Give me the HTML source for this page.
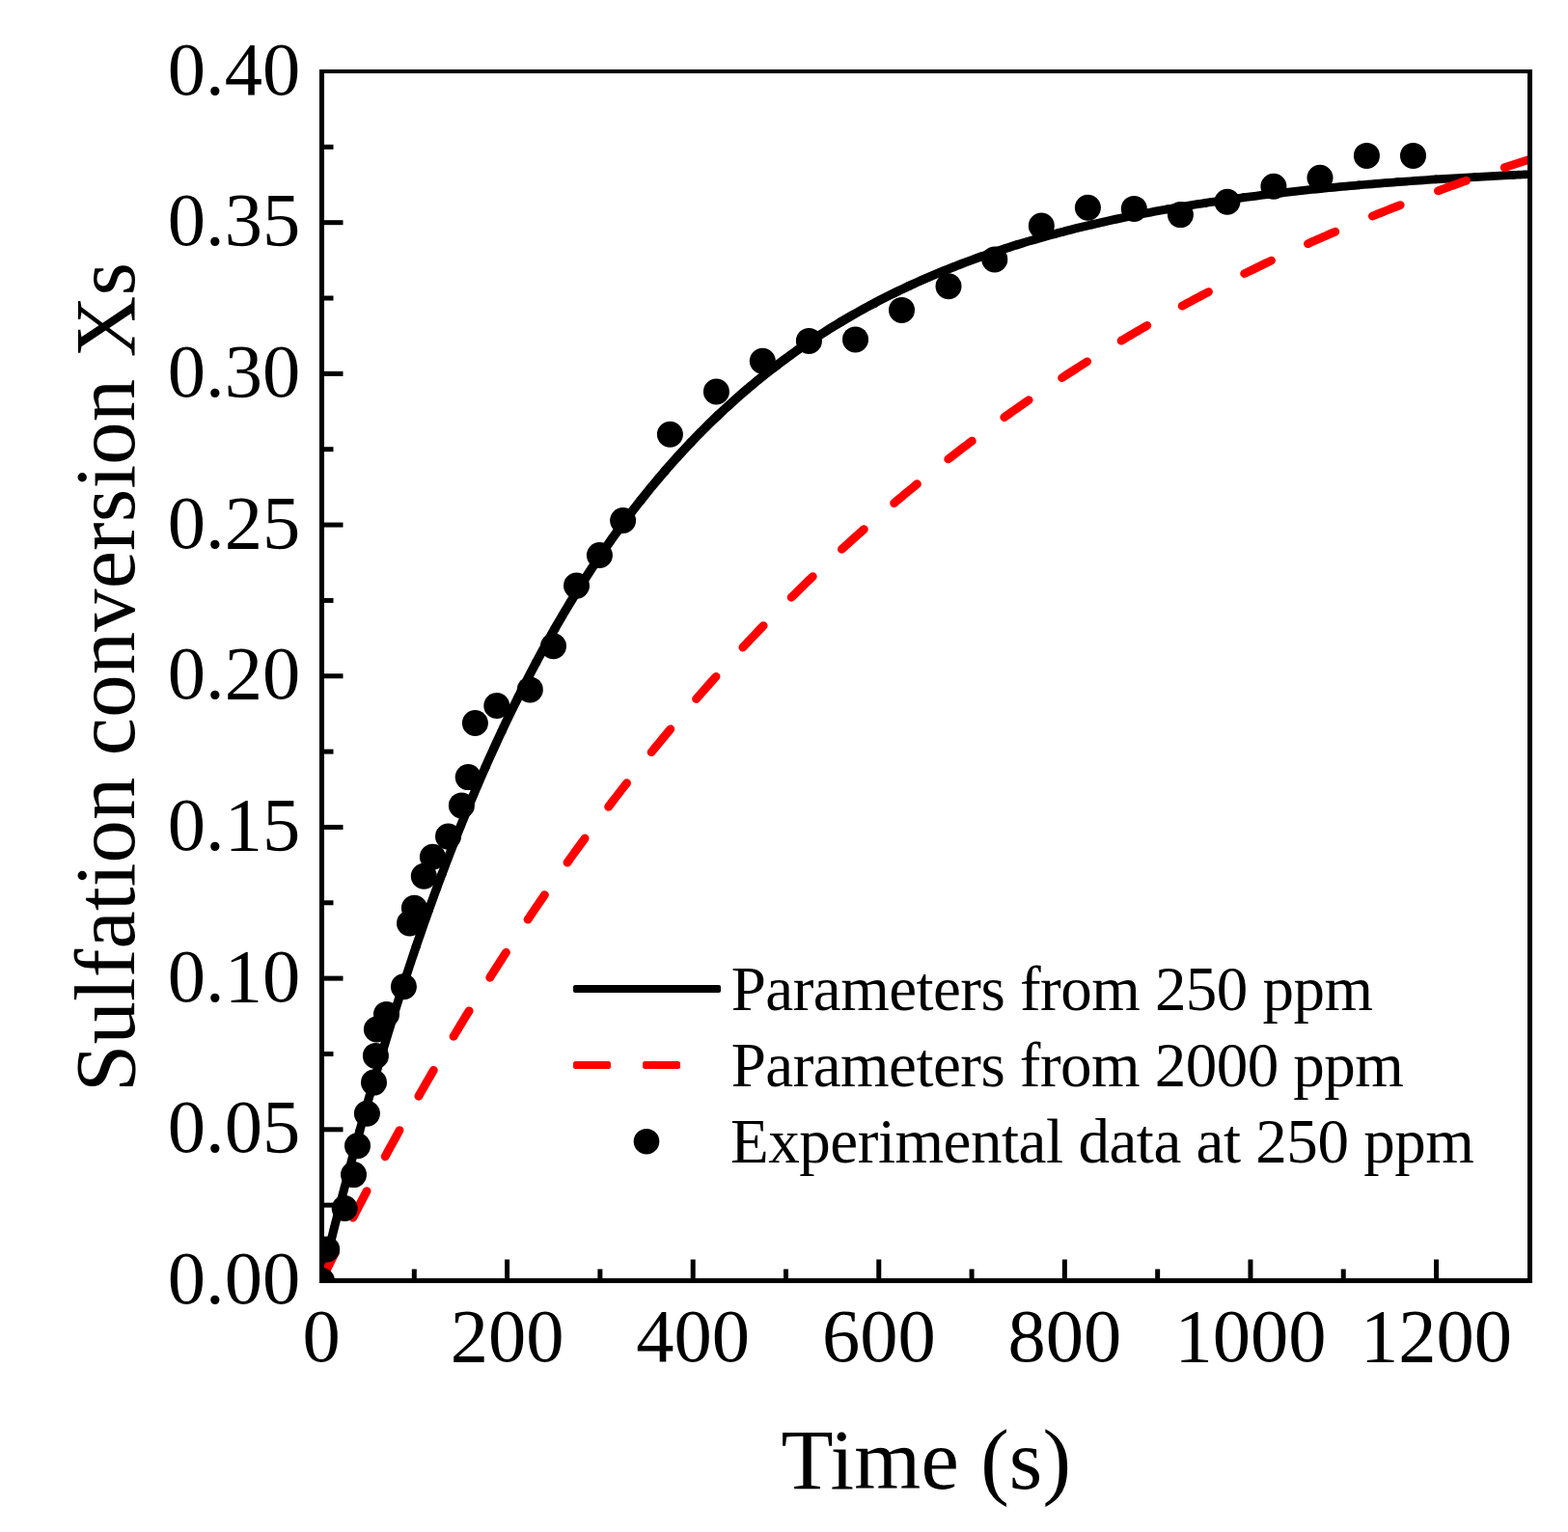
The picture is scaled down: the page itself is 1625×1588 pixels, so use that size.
<!DOCTYPE html>
<html><head><meta charset="utf-8"><title>Sulfation conversion</title>
<style>html,body{margin:0;padding:0;background:#fff;}svg{display:block;}text{font-family:"Liberation Serif","Times New Roman",serif;fill:#000;}</style>
</head><body>
<svg width="1625" height="1588" viewBox="0 0 1625 1588">
<rect width="1625" height="1588" fill="#fff"/>
<defs><clipPath id="pa"><rect x="333.5" y="74" width="1252" height="1253.5"/></clipPath></defs>
<g clip-path="url(#pa)">
<g fill="none" stroke="#000" stroke-linecap="round" stroke-linejoin="round"><path d="M333.00,1327.50 L334.03,1323.18 L335.07,1318.86 L336.11,1314.53 L337.16,1310.21 L338.20,1305.90 L339.26,1301.58 L340.31,1297.26 L341.37,1292.94 L342.44,1288.63" stroke-width="9.01"/><path d="M342.44,1288.63 L343.50,1284.31 L344.58,1280.00 L345.65,1275.69 L346.73,1271.38 L347.81,1267.07 L348.90,1262.76 L349.99,1258.45 L351.09,1254.14 L352.19,1249.84" stroke-width="9.03"/><path d="M352.19,1249.84 L353.29,1245.53 L354.40,1241.23 L355.51,1236.92 L356.62,1232.62 L357.75,1228.32 L358.87,1224.02 L360.00,1219.72 L361.13,1215.42 L362.27,1211.13" stroke-width="9.04"/><path d="M362.27,1211.13 L363.41,1206.83 L364.56,1202.54 L365.71,1198.25 L366.86,1193.95 L368.02,1189.66 L369.19,1185.37 L370.36,1181.09 L371.53,1176.80 L372.71,1172.51" stroke-width="9.05"/><path d="M372.71,1172.51 L373.89,1168.23 L375.08,1163.95 L376.27,1159.67 L377.47,1155.38 L378.67,1151.11 L379.88,1146.83 L381.09,1142.55 L382.30,1138.28 L383.53,1134.00" stroke-width="9.07"/><path d="M383.53,1134.00 L384.75,1129.73 L385.98,1125.46 L387.22,1121.19 L388.46,1116.93 L389.71,1112.66 L390.96,1108.40 L392.22,1104.13 L393.48,1099.87 L394.75,1095.61" stroke-width="9.08"/><path d="M394.75,1095.61 L396.02,1091.35 L397.30,1087.10 L398.58,1082.84 L399.87,1078.59 L401.17,1074.34 L402.47,1070.09 L403.78,1065.84 L405.09,1061.59 L406.41,1057.35" stroke-width="9.10"/><path d="M406.41,1057.35 L407.73,1053.11 L409.06,1048.86 L410.39,1044.63 L411.73,1040.39 L413.08,1036.15 L414.43,1031.92 L415.79,1027.69 L417.16,1023.46 L418.53,1019.23" stroke-width="9.12"/><path d="M418.53,1019.23 L419.91,1015.00 L421.29,1010.78 L422.68,1006.56 L424.08,1002.34 L425.48,998.12 L426.89,993.91 L428.30,989.69 L429.72,985.48 L431.15,981.27" stroke-width="9.14"/><path d="M431.15,981.27 L432.59,977.07 L434.03,972.86 L435.48,968.66 L436.93,964.46 L438.40,960.27 L439.86,956.07 L441.34,951.88 L442.82,947.69 L444.31,943.50" stroke-width="9.16"/><path d="M444.31,943.50 L445.81,939.32 L447.32,935.14 L448.83,930.96 L450.35,926.78 L451.87,922.60 L453.41,918.43 L454.95,914.27 L456.50,910.10 L458.06,905.94" stroke-width="9.18"/><path d="M458.06,905.94 L459.62,901.78 L461.19,897.62 L462.77,893.47 L464.36,889.31 L465.96,885.17 L467.56,881.02 L469.17,876.88 L470.79,872.74 L472.42,868.61" stroke-width="9.20"/><path d="M472.42,868.61 L474.06,864.47 L475.70,860.35 L477.36,856.22 L479.02,852.10 L480.69,847.98 L482.37,843.87 L484.06,839.75 L485.76,835.65 L487.46,831.54" stroke-width="9.23"/><path d="M487.46,831.54 L489.18,827.44 L490.90,823.35 L492.64,819.25 L494.38,815.17 L496.13,811.08 L497.89,807.00 L499.67,802.92 L501.45,798.85 L503.24,794.78" stroke-width="9.25"/><path d="M503.24,794.78 L505.04,790.72 L506.85,786.66 L508.67,782.61 L510.50,778.56 L512.34,774.51 L514.19,770.47 L516.05,766.43 L517.92,762.40 L519.80,758.38" stroke-width="9.28"/><path d="M519.80,758.38 L521.69,754.35 L523.59,750.34 L525.51,746.33 L527.43,742.32 L529.36,738.32 L531.31,734.32 L533.27,730.33 L535.24,726.35 L537.22,722.37" stroke-width="9.31"/><path d="M537.22,722.37 L539.21,718.39 L541.21,714.43 L543.22,710.46 L545.25,706.51 L547.29,702.56 L549.33,698.61 L551.40,694.68 L553.47,690.75 L555.56,686.82" stroke-width="9.33"/><path d="M555.56,686.82 L557.65,682.90 L559.76,678.99 L561.89,675.09 L564.02,671.19 L566.17,667.30 L568.33,663.41 L570.51,659.54 L572.69,655.67 L574.89,651.81" stroke-width="9.36"/><path d="M574.89,651.81 L577.11,647.95 L579.33,644.11 L581.57,640.27 L583.83,636.44 L586.10,632.62 L588.38,628.80 L590.67,625.00 L592.98,621.20 L595.31,617.41" stroke-width="9.39"/><path d="M595.31,617.41 L597.64,613.63 L600.00,609.86 L602.36,606.10 L604.74,602.34 L607.14,598.60 L609.55,594.87 L611.97,591.14 L614.42,587.43 L616.87,583.72" stroke-width="9.42"/><path d="M616.87,583.72 L619.34,580.03 L621.83,576.35 L624.33,572.67 L626.85,569.01 L629.38,565.36 L631.93,561.71 L634.49,558.08 L637.07,554.46 L639.67,550.86" stroke-width="9.44"/><path d="M639.67,550.86 L642.28,547.26 L644.91,543.68 L647.55,540.11 L650.21,536.55 L652.89,533.00 L655.58,529.46 L658.29,525.94 L661.02,522.43 L663.76,518.93" stroke-width="9.47"/><path d="M663.76,518.93 L666.52,515.45 L669.30,511.98 L672.10,508.53 L674.91,505.08 L677.74,501.66 L680.58,498.24 L683.45,494.84 L686.33,491.46 L689.23,488.09" stroke-width="9.48"/><path d="M689.23,488.09 L692.14,484.74 L695.08,481.40 L698.03,478.07 L701.00,474.77 L703.98,471.47 L706.99,468.20 L710.01,464.94 L713.05,461.70 L716.10,458.47" stroke-width="9.50"/><path d="M716.10,458.47 L719.18,455.26 L722.27,452.07 L725.38,448.90 L728.51,445.74 L731.66,442.60 L734.82,439.48 L738.00,436.38 L741.20,433.29 L744.42,430.23" stroke-width="9.50"/><path d="M744.42,430.23 L747.66,427.18 L750.91,424.15 L754.18,421.14 L757.47,418.15 L760.78,415.18 L764.10,412.23 L767.44,409.30 L770.80,406.39 L774.18,403.50" stroke-width="9.49"/><path d="M774.18,403.50 L777.57,400.63 L780.98,397.78 L784.41,394.95 L787.86,392.15 L791.32,389.36 L794.80,386.60 L798.29,383.85 L801.81,381.13 L805.34,378.43" stroke-width="9.48"/><path d="M805.34,378.43 L808.88,375.75 L812.45,373.09 L816.03,370.46 L819.62,367.85 L823.23,365.26 L826.86,362.69 L830.51,360.14 L834.16,357.62 L837.84,355.12" stroke-width="9.45"/><path d="M837.84,355.12 L841.53,352.64 L845.23,350.19 L848.95,347.76 L852.69,345.35 L856.44,342.96 L860.20,340.60 L863.98,338.26 L867.78,335.94 L871.58,333.65" stroke-width="9.42"/><path d="M871.58,333.65 L875.40,331.38 L879.24,329.13 L883.09,326.91 L886.95,324.71 L890.82,322.53 L894.71,320.38 L898.61,318.25 L902.52,316.14 L906.45,314.05" stroke-width="9.37"/><path d="M906.45,314.05 L910.38,311.99 L914.33,309.95 L918.29,307.94 L922.27,305.94 L926.25,303.97 L930.24,302.02 L934.25,300.10 L938.27,298.20 L942.29,296.32" stroke-width="9.32"/><path d="M942.29,296.32 L946.33,294.46 L950.38,292.63 L954.44,290.81 L958.51,289.02 L962.58,287.25 L966.67,285.51 L970.77,283.78 L974.87,282.08 L978.99,280.40" stroke-width="9.26"/><path d="M978.99,280.40 L983.11,278.73 L987.24,277.10 L991.38,275.48 L995.53,273.88 L999.68,272.30 L1003.84,270.75 L1008.01,269.21 L1012.19,267.70 L1016.38,266.20" stroke-width="9.20"/><path d="M1016.38,266.20 L1020.57,264.73 L1024.77,263.27 L1028.98,261.83 L1033.19,260.42 L1037.41,259.02 L1041.63,257.64 L1045.87,256.28 L1050.10,254.94 L1054.35,253.62" stroke-width="9.14"/><path d="M1054.35,253.62 L1058.60,252.32 L1062.85,251.03 L1067.11,249.77 L1071.38,248.52 L1075.65,247.29 L1079.92,246.07 L1084.20,244.88 L1088.49,243.70 L1092.78,242.53" stroke-width="9.08"/><path d="M1092.78,242.53 L1097.07,241.39 L1101.37,240.26 L1105.67,239.14 L1109.98,238.05 L1114.29,236.97 L1118.60,235.90 L1122.92,234.85 L1127.24,233.82 L1131.57,232.80" stroke-width="9.03"/><path d="M1131.57,232.80 L1135.90,231.79 L1140.23,230.80 L1144.57,229.83 L1148.91,228.87 L1153.25,227.92 L1157.60,226.99 L1161.95,226.07 L1166.30,225.17 L1170.65,224.27" stroke-width="8.97"/><path d="M1170.65,224.27 L1175.01,223.40 L1179.37,222.53 L1183.73,221.68 L1188.09,220.84 L1192.46,220.02 L1196.83,219.20 L1201.20,218.40 L1205.58,217.61 L1209.95,216.84" stroke-width="8.93"/><path d="M1209.95,216.84 L1214.33,216.07 L1218.71,215.32 L1223.09,214.58 L1227.48,213.85 L1231.86,213.13 L1236.25,212.42 L1240.64,211.72 L1245.03,211.03 L1249.42,210.36" stroke-width="8.89"/><path d="M1249.42,210.36 L1253.82,209.69 L1258.21,209.04 L1262.61,208.39 L1267.01,207.76 L1271.41,207.13 L1275.81,206.51 L1280.21,205.91 L1284.62,205.31 L1289.02,204.72" stroke-width="8.85"/><path d="M1289.02,204.72 L1293.43,204.14 L1297.84,203.57 L1302.25,203.01 L1306.66,202.46 L1311.07,201.92 L1315.48,201.38 L1319.89,200.86 L1324.31,200.34 L1328.72,199.83" stroke-width="8.82"/><path d="M1328.72,199.83 L1333.14,199.33 L1337.56,198.83 L1341.97,198.34 L1346.39,197.87 L1350.81,197.39 L1355.23,196.93 L1359.65,196.47 L1364.07,196.02 L1368.50,195.58" stroke-width="8.79"/><path d="M1368.50,195.58 L1372.92,195.14 L1377.34,194.72 L1381.77,194.29 L1386.19,193.88 L1390.62,193.47 L1395.04,193.07 L1399.47,192.67 L1403.90,192.28 L1408.33,191.90" stroke-width="8.77"/><path d="M1408.33,191.90 L1412.75,191.52 L1417.18,191.15 L1421.61,190.78 L1426.04,190.42 L1430.47,190.07 L1434.90,189.72 L1439.33,189.37 L1443.77,189.03 L1448.20,188.70" stroke-width="8.74"/><path d="M1448.20,188.70 L1452.63,188.37 L1457.06,188.05 L1461.50,187.74 L1465.93,187.42 L1470.36,187.12 L1474.80,186.81 L1479.23,186.52 L1483.67,186.22 L1488.10,185.94" stroke-width="8.72"/><path d="M1488.10,185.94 L1492.54,185.65 L1496.97,185.37 L1501.41,185.10 L1505.84,184.83 L1510.28,184.56 L1514.72,184.30 L1519.16,184.04 L1523.59,183.79 L1528.03,183.54" stroke-width="8.71"/><path d="M1528.03,183.54 L1532.47,183.29 L1536.91,183.05 L1541.34,182.81 L1545.78,182.58 L1550.22,182.35 L1554.66,182.12 L1559.10,181.90 L1563.54,181.68 L1567.98,181.46" stroke-width="8.69"/><path d="M1567.98,181.46 L1569.85,181.37 L1571.72,181.28 L1573.60,181.19 L1575.47,181.11 L1577.34,181.02 L1579.21,180.93 L1581.09,180.84 L1582.96,180.76 L1584.84,180.67" stroke-width="8.68"/></g>
<path d="M333.71,1326.05 L334.95,1323.52 L336.19,1321.00 L337.44,1318.47 L338.69,1315.94 L339.94,1313.41 L341.19,1310.89 L342.44,1308.36 L343.70,1305.84 L344.95,1303.32 L346.21,1300.80 L347.47,1298.28 M365.79,1262.17 L367.08,1259.66 L368.37,1257.16 L369.67,1254.66 L370.96,1252.15 L372.26,1249.65 L373.56,1247.15 L374.86,1244.65 L376.16,1242.15 L377.47,1239.65 L378.78,1237.16 L380.09,1234.66 M399.15,1198.87 L400.50,1196.39 L401.84,1193.92 L403.18,1191.44 L404.53,1188.96 L405.88,1186.49 L407.23,1184.02 L408.58,1181.55 L409.94,1179.07 L411.30,1176.60 L412.66,1174.14 L414.02,1171.67 M433.88,1136.24 L435.27,1133.79 L436.67,1131.34 L438.07,1128.90 L439.47,1126.45 L440.87,1124.01 L442.28,1121.57 L443.68,1119.12 L445.09,1116.68 L446.51,1114.25 L447.92,1111.81 L449.34,1109.37 M470.03,1074.35 L471.49,1071.94 L472.94,1069.52 L474.40,1067.11 L475.85,1064.70 L477.31,1062.29 L478.78,1059.88 L480.24,1057.47 L481.71,1055.07 L483.18,1052.66 L484.65,1050.26 L486.13,1047.86 M507.71,1013.30 L509.22,1010.93 L510.73,1008.55 L512.25,1006.17 L513.77,1003.80 L515.29,1001.43 L516.81,999.06 L518.34,996.69 L519.87,994.32 L521.40,991.95 L522.93,989.59 L524.47,987.22 M546.98,953.19 L548.55,950.86 L550.13,948.52 L551.71,946.19 L553.29,943.85 L554.87,941.52 L556.46,939.20 L558.05,936.87 L559.64,934.54 L561.24,932.22 L562.83,929.90 L564.43,927.58 M587.92,894.14 L589.56,891.84 L591.20,889.55 L592.85,887.27 L594.50,884.98 L596.15,882.70 L597.80,880.41 L599.45,878.13 L601.11,875.85 L602.77,873.58 L604.44,871.30 L606.11,869.03 M630.61,836.25 L632.32,834.01 L634.03,831.77 L635.75,829.54 L637.46,827.30 L639.18,825.07 L640.90,822.84 L642.63,820.61 L644.36,818.38 L646.09,816.16 L647.82,813.94 L649.56,811.72 M675.12,779.68 L676.90,777.49 L678.69,775.31 L680.47,773.13 L682.26,770.95 L684.05,768.77 L685.84,766.60 L687.64,764.43 L689.44,762.26 L691.24,760.09 L693.05,757.93 L694.85,755.77 M721.52,724.55 L723.37,722.43 L725.22,720.31 L727.08,718.19 L728.94,716.07 L730.81,713.96 L732.67,711.85 L734.54,709.74 L736.42,707.63 L738.29,705.53 L740.17,703.43 L742.05,701.33 M769.84,671.02 L771.76,668.97 L773.69,666.91 L775.63,664.86 L777.56,662.81 L779.50,660.77 L781.44,658.73 L783.39,656.69 L785.33,654.65 L787.28,652.62 L789.24,650.58 L791.19,648.56 M820.12,619.24 L822.12,617.26 L824.12,615.28 L826.13,613.30 L828.14,611.33 L830.16,609.36 L832.17,607.39 L834.19,605.43 L836.22,603.46 L838.24,601.50 L840.27,599.55 L842.30,597.60 M872.37,569.37 L874.45,567.47 L876.53,565.56 L878.61,563.67 L880.70,561.77 L882.79,559.88 L884.88,557.99 L886.97,556.11 L889.07,554.23 L891.17,552.35 L893.28,550.47 L895.38,548.60 M926.59,521.54 L928.74,519.72 L930.89,517.91 L933.05,516.09 L935.21,514.28 L937.38,512.48 L939.54,510.67 L941.71,508.87 L943.88,507.08 L946.06,505.29 L948.23,503.50 L950.41,501.71 M982.74,475.90 L984.96,474.17 L987.19,472.44 L989.42,470.72 L991.65,469.00 L993.89,467.28 L996.12,465.57 L998.36,463.86 L1000.61,462.15 L1002.85,460.45 L1005.10,458.75 L1007.35,457.06 M1040.76,432.56 L1043.05,430.92 L1045.35,429.29 L1047.65,427.66 L1049.95,426.03 L1052.25,424.41 L1054.56,422.79 L1056.87,421.17 L1059.18,419.56 L1061.50,417.95 L1063.81,416.35 L1066.13,414.75 M1100.57,391.61 L1102.93,390.07 L1105.30,388.53 L1107.66,387.00 L1110.03,385.47 L1112.39,383.94 L1114.77,382.42 L1117.14,380.90 L1119.52,379.39 L1121.89,377.87 L1124.28,376.37 L1126.66,374.86 M1162.08,353.13 L1164.50,351.69 L1166.92,350.25 L1169.34,348.81 L1171.77,347.38 L1174.20,345.95 L1176.63,344.52 L1179.06,343.10 L1181.50,341.69 L1183.94,340.27 L1186.38,338.86 L1188.82,337.46 M1225.14,317.15 L1227.62,315.80 L1230.10,314.46 L1232.58,313.12 L1235.06,311.79 L1237.54,310.46 L1240.03,309.13 L1242.52,307.81 L1245.01,306.49 L1247.50,305.17 L1250.00,303.86 L1252.49,302.55 M1289.64,283.66 L1292.17,282.41 L1294.70,281.17 L1297.23,279.93 L1299.76,278.69 L1302.30,277.46 L1304.83,276.23 L1307.37,275.00 L1309.91,273.78 L1312.45,272.57 L1314.99,271.35 L1317.54,270.14 M1355.44,252.65 L1358.01,251.49 L1360.58,250.35 L1363.16,249.20 L1365.73,248.06 L1368.31,246.92 L1370.89,245.79 L1373.47,244.66 L1376.06,243.53 L1378.64,242.41 L1381.23,241.29 L1383.82,240.17 M1422.38,224.04 L1424.99,222.98 L1427.61,221.93 L1430.22,220.88 L1432.84,219.83 L1435.45,218.78 L1438.07,217.74 L1440.69,216.70 L1443.31,215.67 L1445.94,214.64 L1448.56,213.61 L1451.19,212.58 M1490.34,197.77 L1492.99,196.80 L1495.64,195.83 L1498.28,194.87 L1500.93,193.91 L1503.58,192.95 L1506.24,192.00 L1508.89,191.05 L1511.54,190.10 L1514.20,189.15 L1516.86,188.21 L1519.51,187.28 M1559.19,173.72 L1561.52,172.94 L1563.84,172.18 L1566.17,171.41 L1568.50,170.65 L1570.83,169.88 L1573.17,169.13 L1575.50,168.37 L1577.83,167.61 L1580.17,166.86 L1582.50,166.11 L1584.84,165.36" fill="none" stroke="#f00" stroke-width="8.8" stroke-linecap="round" stroke-linejoin="round"/>
<g fill="#000">
<circle cx="333.5" cy="1327.5" r="13.5"/>
<circle cx="338.7" cy="1295.0" r="13.5"/>
<circle cx="357.2" cy="1252.5" r="13.5"/>
<circle cx="366.5" cy="1217.6" r="13.5"/>
<circle cx="370.5" cy="1187.8" r="13.5"/>
<circle cx="380.4" cy="1154.2" r="13.5"/>
<circle cx="387.5" cy="1122.1" r="13.5"/>
<circle cx="389.4" cy="1094.4" r="13.5"/>
<circle cx="390.4" cy="1067.0" r="13.5"/>
<circle cx="400.5" cy="1051.4" r="13.5"/>
<circle cx="418.4" cy="1022.8" r="13.5"/>
<circle cx="424.5" cy="957.0" r="13.5"/>
<circle cx="429.4" cy="941.3" r="13.5"/>
<circle cx="439.3" cy="908.3" r="13.5"/>
<circle cx="448.4" cy="888.2" r="13.5"/>
<circle cx="464.5" cy="867.1" r="13.5"/>
<circle cx="478.4" cy="834.9" r="13.5"/>
<circle cx="485.2" cy="805.6" r="13.5"/>
<circle cx="492.4" cy="749.5" r="13.5"/>
<circle cx="514.8" cy="731.5" r="13.5"/>
<circle cx="549.3" cy="714.9" r="13.5"/>
<circle cx="573.5" cy="669.7" r="13.5"/>
<circle cx="597.5" cy="607.1" r="13.5"/>
<circle cx="621.4" cy="575.5" r="13.5"/>
<circle cx="645.6" cy="539.5" r="13.5"/>
<circle cx="694.4" cy="450.3" r="13.5"/>
<circle cx="742.4" cy="406.0" r="13.5"/>
<circle cx="790.3" cy="374.2" r="13.5"/>
<circle cx="838.4" cy="353.4" r="13.5"/>
<circle cx="886.5" cy="351.9" r="13.5"/>
<circle cx="934.5" cy="321.4" r="13.5"/>
<circle cx="983.0" cy="296.8" r="13.5"/>
<circle cx="1030.8" cy="268.9" r="13.5"/>
<circle cx="1079.3" cy="234.1" r="13.5"/>
<circle cx="1127.4" cy="215.3" r="13.5"/>
<circle cx="1175.3" cy="216.4" r="13.5"/>
<circle cx="1223.4" cy="222.6" r="13.5"/>
<circle cx="1271.9" cy="209.3" r="13.5"/>
<circle cx="1319.9" cy="193.3" r="13.5"/>
<circle cx="1368.0" cy="184.2" r="13.5"/>
<circle cx="1416.4" cy="161.4" r="13.5"/>
<circle cx="1464.5" cy="161.4" r="13.5"/>
</g></g>
<g stroke="#000" fill="none">
<line x1="333.5" y1="72" x2="333.5" y2="1330" stroke-width="5"/>
<line x1="331" y1="1327.5" x2="1588" y2="1327.5" stroke-width="5"/>
<line x1="331" y1="74" x2="1588" y2="74" stroke-width="4"/>
<line x1="1585.5" y1="72" x2="1585.5" y2="1330" stroke-width="5"/>
<line x1="429.30" y1="1327.5" x2="429.30" y2="1315.5" stroke-width="5"/>
<line x1="525.59" y1="1327.5" x2="525.59" y2="1305.5" stroke-width="5"/>
<line x1="621.88" y1="1327.5" x2="621.88" y2="1315.5" stroke-width="5"/>
<line x1="718.18" y1="1327.5" x2="718.18" y2="1305.5" stroke-width="5"/>
<line x1="814.47" y1="1327.5" x2="814.47" y2="1315.5" stroke-width="5"/>
<line x1="910.77" y1="1327.5" x2="910.77" y2="1305.5" stroke-width="5"/>
<line x1="1007.06" y1="1327.5" x2="1007.06" y2="1315.5" stroke-width="5"/>
<line x1="1103.36" y1="1327.5" x2="1103.36" y2="1305.5" stroke-width="5"/>
<line x1="1199.65" y1="1327.5" x2="1199.65" y2="1315.5" stroke-width="5"/>
<line x1="1295.95" y1="1327.5" x2="1295.95" y2="1305.5" stroke-width="5"/>
<line x1="1392.24" y1="1327.5" x2="1392.24" y2="1315.5" stroke-width="5"/>
<line x1="1488.54" y1="1327.5" x2="1488.54" y2="1305.5" stroke-width="5"/>
<line x1="333.5" y1="1249.16" x2="345.5" y2="1249.16" stroke-width="5"/>
<line x1="333.5" y1="1170.81" x2="355.5" y2="1170.81" stroke-width="5"/>
<line x1="333.5" y1="1092.47" x2="345.5" y2="1092.47" stroke-width="5"/>
<line x1="333.5" y1="1014.12" x2="355.5" y2="1014.12" stroke-width="5"/>
<line x1="333.5" y1="935.78" x2="345.5" y2="935.78" stroke-width="5"/>
<line x1="333.5" y1="857.44" x2="355.5" y2="857.44" stroke-width="5"/>
<line x1="333.5" y1="779.09" x2="345.5" y2="779.09" stroke-width="5"/>
<line x1="333.5" y1="700.75" x2="355.5" y2="700.75" stroke-width="5"/>
<line x1="333.5" y1="622.41" x2="345.5" y2="622.41" stroke-width="5"/>
<line x1="333.5" y1="544.06" x2="355.5" y2="544.06" stroke-width="5"/>
<line x1="333.5" y1="465.72" x2="345.5" y2="465.72" stroke-width="5"/>
<line x1="333.5" y1="387.37" x2="355.5" y2="387.37" stroke-width="5"/>
<line x1="333.5" y1="309.03" x2="345.5" y2="309.03" stroke-width="5"/>
<line x1="333.5" y1="230.69" x2="355.5" y2="230.69" stroke-width="5"/>
<line x1="333.5" y1="152.34" x2="345.5" y2="152.34" stroke-width="5"/>
</g>
<g font-size="78.5" text-anchor="middle">
<text x="333.00" y="1411">0</text>
<text x="525.59" y="1411">200</text>
<text x="718.18" y="1411">400</text>
<text x="910.77" y="1411">600</text>
<text x="1103.36" y="1411">800</text>
<text x="1295.95" y="1411">1000</text>
<text x="1488.54" y="1411">1200</text>
</g><g font-size="78.5" text-anchor="end">
<text x="311.2" y="1351.10">0.00</text>
<text x="311.2" y="1194.41">0.05</text>
<text x="311.2" y="1037.72">0.10</text>
<text x="311.2" y="881.04">0.15</text>
<text x="311.2" y="724.35">0.20</text>
<text x="311.2" y="567.66">0.25</text>
<text x="311.2" y="410.97">0.30</text>
<text x="311.2" y="254.29">0.35</text>
<text x="311.2" y="97.60">0.40</text>
</g>
<text x="809.4" y="1543" font-size="88.6" textLength="300.6" lengthAdjust="spacing">Time (s)</text>
<text transform="translate(139.2,1131.9) rotate(-90)" font-size="88.6" textLength="860" lengthAdjust="spacing">Sulfation conversion Xs</text>
<rect x="594" y="1021" width="153" height="8" rx="2" fill="#000"/>
<rect x="594" y="1100" width="39" height="8" rx="2.5" fill="#f00"/>
<rect x="666" y="1100" width="39" height="8" rx="2.5" fill="#f00"/>
<circle cx="670" cy="1183.2" r="13.3" fill="#000"/>
<g font-size="65.0">
<text x="757.73" y="1047.2" textLength="665.29" lengthAdjust="spacing">Parameters from 250 ppm</text>
<text x="757.73" y="1126.2" textLength="697.09" lengthAdjust="spacing">Parameters from 2000 ppm</text>
<text x="757.03" y="1205" textLength="770.79" lengthAdjust="spacing">Experimental data at 250 ppm</text>
</g>
</svg></body></html>
